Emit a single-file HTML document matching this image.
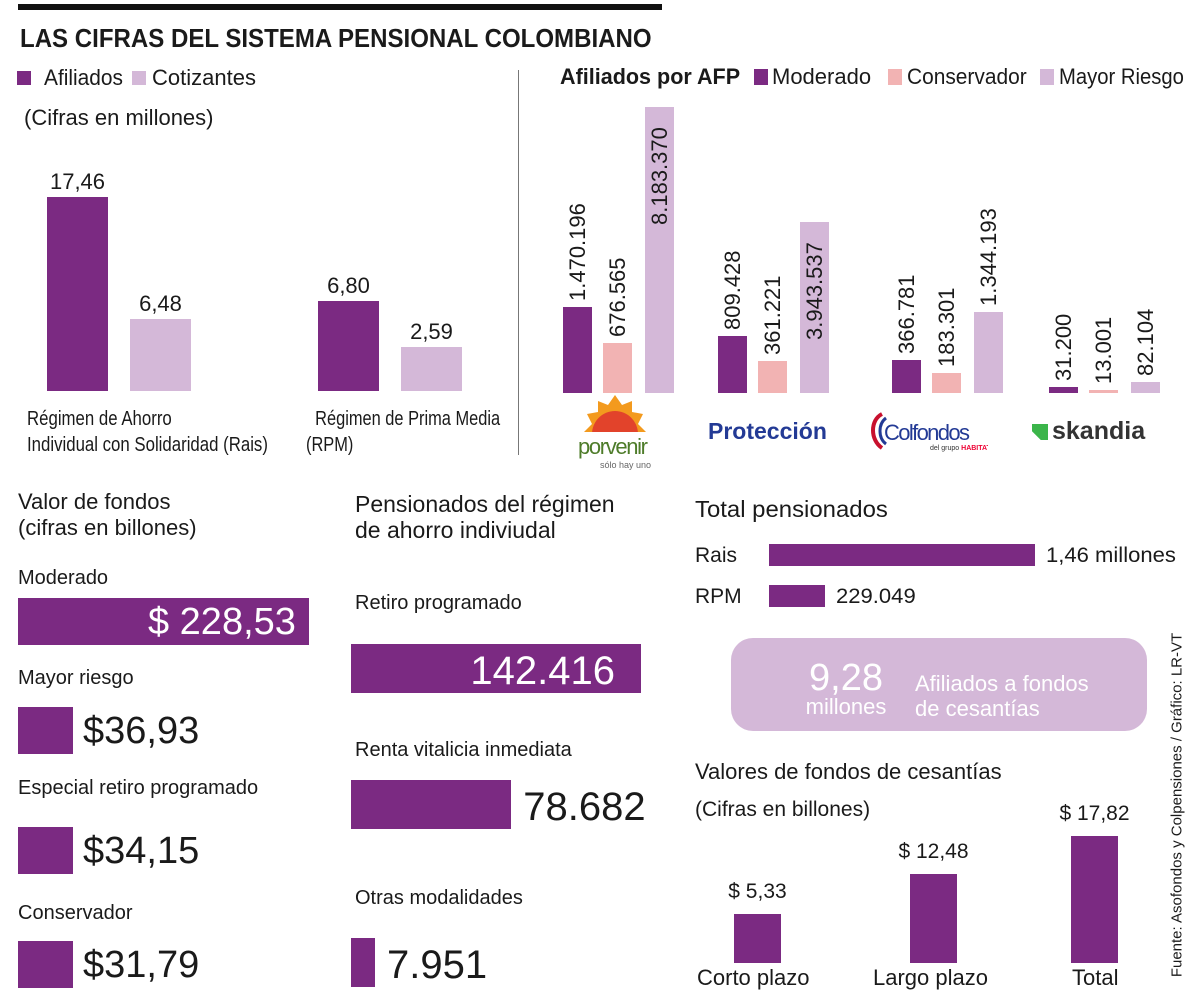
<!DOCTYPE html>
<html><head><meta charset="utf-8">
<style>
*{margin:0;padding:0;box-sizing:border-box}
body{width:1200px;height:996px;background:#fff;position:relative;overflow:hidden;font-family:"Liberation Sans",sans-serif;color:#1a1a1a}
.a{position:absolute;white-space:nowrap;line-height:1}
.b{position:absolute}
.h{font-weight:bold}
</style></head><body>
<div class="b" style="left:18px;top:4px;width:644px;height:6px;background:#111"></div>
<div class="a h" style="left:20px;top:25px;font-size:26px;transform-origin:0 0;transform:scaleX(0.925)">LAS CIFRAS DEL SISTEMA PENSIONAL COLOMBIANO</div>

<div class="b" style="left:17px;top:71px;width:14px;height:14px;background:#7b2a82"></div>
<div class="a" style="left:44px;top:67px;font-size:22px;transform-origin:0 0;transform:scaleX(0.95)">Afiliados</div>
<div class="b" style="left:132px;top:71px;width:14px;height:14px;background:#d4b8d8"></div>
<div class="a" style="left:152px;top:67px;font-size:22px">Cotizantes</div>
<div class="a" style="left:24px;top:107px;font-size:22px">(Cifras en millones)</div>
<div class="b" style="left:518px;top:70px;width:1px;height:385px;background:#777"></div>

<div class="a" style="left:27px;top:406px;font-size:20px;line-height:26px;transform-origin:0 0;transform:scaleX(0.84)">Régimen de Ahorro<br>Individual con Solidaridad (Rais)</div>
<div class="a" style="left:306px;top:406px;font-size:20px;line-height:26px;transform-origin:0 0;transform:scaleX(0.82)">&nbsp;&nbsp;Régimen de Prima Media<br>(RPM)</div>

<div class="a h" style="left:560px;top:66px;font-size:22px;transform-origin:0 0;transform:scaleX(0.98)">Afiliados por AFP</div>
<div class="b" style="left:754px;top:69px;width:14px;height:16px;background:#7b2a82"></div>
<div class="a" style="left:772px;top:66px;font-size:22px">Moderado</div>
<div class="b" style="left:888px;top:69px;width:14px;height:16px;background:#f2b3b3"></div>
<div class="a" style="left:907px;top:66px;font-size:22px;transform-origin:0 0;transform:scaleX(0.95)">Conservador</div>
<div class="b" style="left:1040px;top:69px;width:14px;height:16px;background:#d4b8d8"></div>
<div class="a" style="left:1059px;top:66px;font-size:22px;transform-origin:0 0;transform:scaleX(0.92)">Mayor Riesgo</div>

<!-- logos -->
<svg class="b" style="left:570px;top:392px" width="90" height="80">
<g fill="#f39a1e">
<polygon points="14,40 22,32 17,22 28,20 28,9 38,13 45,3 52,13 62,9 62,20 73,22 68,32 76,40"/>
</g>
<path d="M22,42 A23,23 0 0 1 68,42 Z" fill="#e2432b"/>
<rect x="10" y="40" width="70" height="4" fill="#fff"/>
<text x="8" y="62" font-size="22" fill="#4e7c2a" font-family="Liberation Sans" textLength="70">porvenir</text>
<text x="30" y="76" font-size="9" fill="#666" font-family="Liberation Sans">sólo hay uno</text>
</svg>
<div class="a h" style="left:708px;top:420px;font-size:23px;color:#233a95">Protección</div>
<svg class="b" style="left:868px;top:410px" width="120" height="45">
<path d="M14,4 C2,10 2,30 14,38" stroke="#c8102e" stroke-width="4" fill="none"/>
<path d="M18,8 C10,14 10,28 18,34" stroke="#233a95" stroke-width="3" fill="none"/>
<text x="16" y="30" font-size="22" fill="#233a95" font-family="Liberation Sans" textLength="86">Colfondos</text>
<text x="62" y="40" font-size="7" fill="#333" font-family="Liberation Sans">del grupo <tspan fill="#e03" font-weight="bold">HABITAT</tspan></text>
</svg>
<div class="b" style="left:1032px;top:424px;width:16px;height:16px;background:#3bb54a;clip-path:polygon(0 0,100% 0,100% 100%,55% 100%,0 45%)"></div>
<div class="a h" style="left:1052px;top:419px;font-size:25px;color:#333">skandia</div>

<!-- bottom headings -->
<div class="a" style="left:18px;top:489px;font-size:22px;line-height:26px">Valor de fondos<br>(cifras en billones)</div>
<div class="a" style="left:355px;top:491px;font-size:23px;line-height:26px">Pensionados del régimen<br>de ahorro indiviudal</div>
<div class="a" style="left:695px;top:498px;font-size:23px;transform-origin:0 0;transform:scaleX(1.04)">Total pensionados</div>

<div class="b" style="left:731px;top:638px;width:416px;height:93px;background:#d4b8d8;border-radius:22px"></div>
<div class="a" style="left:800px;top:659px;width:92px;text-align:center;font-size:38px;color:#fff">9,28</div>
<div class="a" style="left:800px;top:696px;width:92px;text-align:center;font-size:22px;color:#fff">millones</div>
<div class="a" style="left:915px;top:671px;font-size:22px;line-height:25px;color:#fff">Afiliados a fondos<br>de cesantías</div>

<div class="a" style="left:695px;top:761px;font-size:22px">Valores de fondos de cesantías</div>
<div class="a" style="left:695px;top:799px;font-size:21px">(Cifras en billones)</div>

<div class="a" style="left:1177px;top:805px;font-size:15px;transform:translate(-50%,-50%) rotate(-90deg)">Fuente: Asofondos y Colpensiones / Gráfico: LR-VT</div>

<script>
// Chart 1: afiliados / cotizantes (millones)
const regimes = ["Rais", "RPM"];
const afiliados = [17.46, 6.80];
const cotizantes = [6.48, 2.59];
const regimeLabels = ["17,46", "6,80"];
const cotizLabels = ["6,48", "2,59"];
// Chart 2: afiliados por AFP
const afps = ["Porvenir", "Protección", "Colfondos", "Skandia"];
const moderado = [1470196, 809428, 366781, 31200];
const conservador = [676565, 361221, 183301, 13001];
const mayorRiesgo = [8183370, 3943537, 1344193, 82104];
// Valor de fondos
const fondosCats = ["Moderado", "Mayor riesgo", "Especial retiro programado", "Conservador"];
const fondosVals = [228.53, 36.93, 34.15, 31.79];
const fondosLabels = ["$ 228,53", "$36,93", "$34,15", "$31,79"];
// Pensionados
const pensCats = ["Retiro programado", "Renta vitalicia inmediata", "Otras modalidades"];
const pensVals = [142416, 78682, 7951];
const pensLabels = ["142.416", "78.682", "7.951"];
// Total pensionados
const totCats = ["Rais", "RPM"];
const totVals = [1460000, 229049];
const totLabels = ["1,46 millones", "229.049"];
// Cesantias
const cesCats = ["Corto plazo", "Largo plazo", "Total"];
const cesVals = [5.33, 12.48, 17.82];
const cesLabels = ["$ 5,33", "$ 12,48", "$ 17,82"];

const PURPLE = "#7b2a82", LILAC = "#d4b8d8", PINK = "#f2b3b3";
function box(x, y, w, h, c) {
  const d = document.createElement("div");
  d.className = "b";
  d.style.cssText = `left:${x}px;top:${y}px;width:${w}px;height:${h}px;background:${c}`;
  document.body.appendChild(d);
  return d;
}
function txt(x, y, s, size, extra) {
  const d = document.createElement("div");
  d.className = "a";
  d.textContent = s;
  d.style.cssText = `left:${x}px;top:${y}px;font-size:${size}px;` + (extra || "");
  document.body.appendChild(d);
  return d;
}
function fmtNum(v) { return String(v).replace(/\B(?=(\d{3})+(?!\d))/g, "."); }

// chart 1
const y1 = v => 11.1 * v, base1 = 391, c1x = [47, 318];
regimes.forEach((r, i) => {
  const ha = Math.max(y1(afiliados[i]), 90), hc = Math.max(y1(cotizantes[i]), 44);
  const a = box(c1x[i], base1 - ha, 61, ha, PURPLE);
  
  
  const c = box(c1x[i] + 83, base1 - hc, 61, hc, LILAC);
  
  
  const la = txt(c1x[i], base1 - ha - 26, regimeLabels[i], 22, "width:61px;text-align:center");
  
  
  const lc = txt(c1x[i] + 83, base1 - hc - 26, cotizLabels[i], 22, "width:61px;text-align:center");
  
  
});

// chart 2
const y2 = v => 65.6 * Math.pow(v / 1e6, 0.7), base2 = 393;
const gx = [563, 718, 892, 1049], off = [0, 40, 82];
afps.forEach((a, i) => {
  [[moderado, PURPLE, "moderado"], [conservador, PINK, "conservador"], [mayorRiesgo, LILAC, "mayor-riesgo"]].forEach((s, j) => {
    const v = s[0][i], h = y2(v), x = gx[i] + off[j];
    const b = box(x, base2 - h, 29, h, s[1]);
    
    
    const inside = h > 160;
    const ty = inside ? base2 - h + 118 : base2 - h - 6;
    const t = txt(x + 14.5, ty, fmtNum(v), 22, "transform-origin:0 0;transform:rotate(-90deg) translate(0,-50%);");
    
    
  });
});

// valor de fondos
const xf = v => 1.273 * v, fy = [598, 707, 827, 941], fly = [568, 668, 778, 903];
fondosCats.forEach((c, i) => {
  const l = txt(18, fly[i], c, 20);
  
  
  const w = Math.max(xf(fondosVals[i]), 55);
  const b = box(18, fy[i], w, 47, PURPLE);
  
  
  const inside = w > 150;
  const t = txt(inside ? 18 : 18 + w + 10, fy[i] + 5, fondosLabels[i], 38,
    inside ? `width:${w - 13}px;text-align:right;color:#fff` : "");
  
  
});

// pensionados
const xp = v => 290 / 142416 * v, py = [644, 780, 938], ply = [593, 740, 888];
pensCats.forEach((c, i) => {
  const l = txt(355, ply[i], c, 20);
  
  
  const w = Math.max(xp(pensVals[i]), 24);
  const b = box(351, py[i], w, 49, PURPLE);
  
  
  const inside = w > 200;
  const t = txt(inside ? 351 : 351 + w + 12, py[i] + 7, pensLabels[i], 40,
    inside ? `width:${w - 26}px;text-align:right;color:#fff` : "");
  
  
});

// total pensionados
const xt = v => 266 / 1460000 * v, ty = [544, 585];
totCats.forEach((c, i) => {
  const l = txt(695, ty[i] + 1, c, 21);
  
  
  const w = Math.max(xt(totVals[i]), 56);
  const b = box(769, ty[i], w, 22, PURPLE);
  
  
  const t = txt(769 + w + 11, ty[i] + 1, totLabels[i], 21, "transform-origin:0 0;transform:scaleX(1.05)");
  
  
});

// cesantias
const yc = v => 7.13 * v, basec = 963, cx = [734, 910, 1071], clx = [697, 873, 1072];
cesCats.forEach((c, i) => {
  const h = Math.max(yc(cesVals[i]), 49);
  const b = box(cx[i], basec - h, 47, h, PURPLE);
  
  
  const t = txt(cx[i] - 30, basec - h - 33, cesLabels[i], 21, "width:107px;text-align:center");
  
  
  const l = txt(clx[i], 967, c, 22);
  
  
});
</script>
</body></html>
